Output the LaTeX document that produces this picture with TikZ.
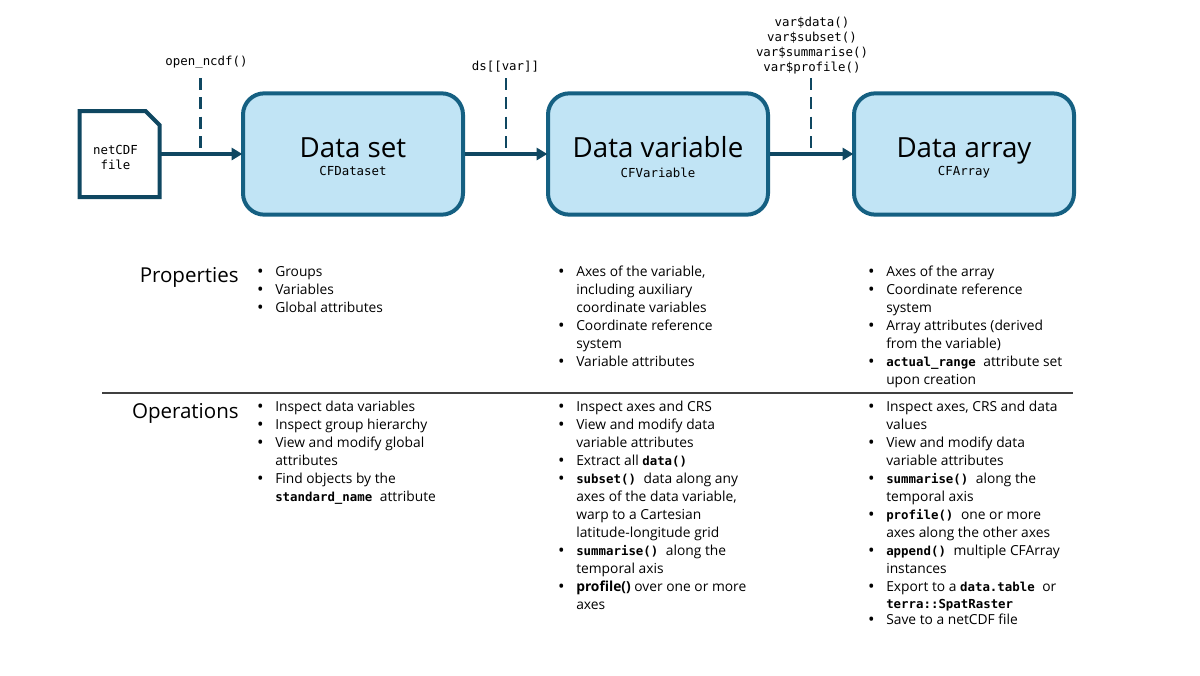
\documentclass[tikz,border=0pt]{standalone}
\usepackage{fontspec}
\setmainfont{Open Sans}
\newfontfamily\code{DejaVu Sans Mono}
\usetikzlibrary{arrows.meta}
\definecolor{boxline}{HTML}{156082}
\definecolor{boxfill}{HTML}{C1E4F5}
\definecolor{darkline}{HTML}{0F4761}
\newcommand{\monob}[1]{{\code\bfseries\fontsize{9.3pt}{13.5pt}\selectfont #1}}
\newcommand{\gapp}{\hspace{3pt}}
\newcommand{\bl}{\strut\makebox[0pt][r]{\raisebox{-0.6pt}{\fontsize{13pt}{13.5pt}\selectfont\textbullet}\hspace{8.8pt}}}
\tikzset{
  x=0.75pt,y=-0.75pt,
  classbox/.style={draw=boxline,fill=boxfill,line width=3pt,rounded corners=16pt,minimum width=165pt,minimum height=91pt,inner sep=0pt,anchor=center},
  boxlabel/.style={inner sep=0pt,anchor=center,align=center},
  flow/.style={draw=darkline,line width=2.6pt,-{Triangle[length=8pt,width=9pt]},shorten >=-1pt},
  dashline/.style={draw=darkline,line width=2.2pt,dash pattern=on 9pt off 5.5pt},
  codelabel/.style={inner sep=0pt,align=center,font=\code\fontsize{9.3pt}{11.25pt}\selectfont},
  blist/.style={inner sep=0pt,anchor=north west,align=left,font=\fontsize{10.35pt}{13.5pt}\selectfont},
  rowlabel/.style={inner sep=0pt,anchor=base east,font=\fontsize{15.4pt}{18pt}\selectfont},
}
\newcommand{\boxtext}[2]{{\fontsize{20.8pt}{25pt}\selectfont\vphantom{Dpy}#1}\\[2pt]{\code\fontsize{9.3pt}{12pt}\selectfont\vphantom{Cpy}#2}}
\begin{document}
\begin{tikzpicture}
\useasboundingbox (0,0) rectangle (1200,675);
\node[classbox] (ds) at (353,154) {};
\node[classbox] (dv) at (658,154) {};
\node[classbox] (da) at (964,154) {};
\node[boxlabel] (dst) at ([yshift=-3pt]ds.center) {\boxtext{Data set}{CFDataset}};
\node[boxlabel] (dvt) at ([yshift=-3pt]dv.center) {\boxtext{Data variable}{CFVariable}};
\node[boxlabel] (dat) at ([yshift=-3pt]da.center) {\boxtext{Data array}{CFArray}};
\node[minimum width=60pt,minimum height=64.5pt,inner sep=0pt,outer sep=0pt] (file) at (119.5,154) {};
\draw[darkline,line width=3pt,line join=miter] (file.west |- file.north) -- ([xshift=-10.5pt]file.east |- file.north) -- ([yshift=-10.5pt]file.east |- file.north) -- (file.east |- file.south) -- (file.west |- file.south) -- cycle;
\node[codelabel] (filetxt) at (115.5,157.5) {netCDF\\file};
\draw[flow] (file.east) -- (ds.west);
\draw[flow] (ds.east) -- (dv.west);
\draw[flow] (dv.east) -- (da.west);
\coordinate (d1t) at (200.5,78); \coordinate (d1b) at (200.5,149);
\coordinate (d2t) at (506,78); \coordinate (d2b) at (506,149);
\coordinate (d3t) at (811,78); \coordinate (d3b) at (811,149);
\draw[dashline] (d1t) -- (d1b);
\draw[dashline] (d2t) -- (d2b);
\draw[dashline] (d3t) -- (d3b);
\node[codelabel,anchor=base] (l1) at (206.5,65) {open\_ncdf()};
\node[codelabel,anchor=base] (l2) at (505.5,70) {ds[[var]]};
\node[codelabel,anchor=south] (l3) at (812,74) {var\$data()\\var\$subset()\\var\$summarise()\\var\$profile()};
\node[rowlabel] (props) at (239,282) {Properties};
\node[rowlabel] (ops) at (239,418) {Operations};
\coordinate (ruleL) at (102,393); \coordinate (ruleR) at (1073,393);
\draw[black!75,line width=0.9pt] (ruleL) -- (ruleR);
\node[blist] (p1) at (275,263.5) {\bl Groups\\\bl Variables\\\bl Global attributes};
\node[blist] (p2) at (576,263.5) {\bl Axes of the variable,\\including auxiliary\\coordinate variables\\\bl Coordinate reference\\system\\\bl Variable attributes};
\node[blist] (p3) at (886,263.5) {\bl Axes of the array\\\bl Coordinate reference\\system\\\bl Array attributes (derived\\from the variable)\\\bl \monob{actual\_range}\gapp{} attribute set\\upon creation};
\node[blist] (o1) at (275,398.5) {\bl Inspect data variables\\\bl Inspect group hierarchy\\\bl View and modify global\\attributes\\\bl Find objects by the\\\monob{standard\_name}\gapp{} attribute};
\node[blist] (o2) at (576,398.5) {\bl Inspect axes and CRS\\\bl View and modify data\\variable attributes\\\bl Extract all \monob{data()}\\\bl \monob{subset()}\gapp{} data along any\\axes of the data variable,\\warp to a Cartesian\\latitude-longitude grid\\\bl \monob{summarise()}\gapp{} along the\\temporal axis\\\bl \textbf{profile()} over one or more\\axes};
\node[blist] (o3) at (886,398.5) {\bl Inspect axes, CRS and data\\values\\\bl View and modify data\\variable attributes\\\bl \monob{summarise()}\gapp{} along the\\temporal axis\\\bl \monob{profile()}\gapp{} one or more\\axes along the other axes\\\bl \monob{append()}\gapp{} multiple CFArray\\instances\\\bl Export to a \monob{data.table}\gapp{} or\\[-1pt]\monob{terra::SpatRaster}\\[-1pt]\bl Save to a netCDF file};
\end{tikzpicture}
\end{document}
